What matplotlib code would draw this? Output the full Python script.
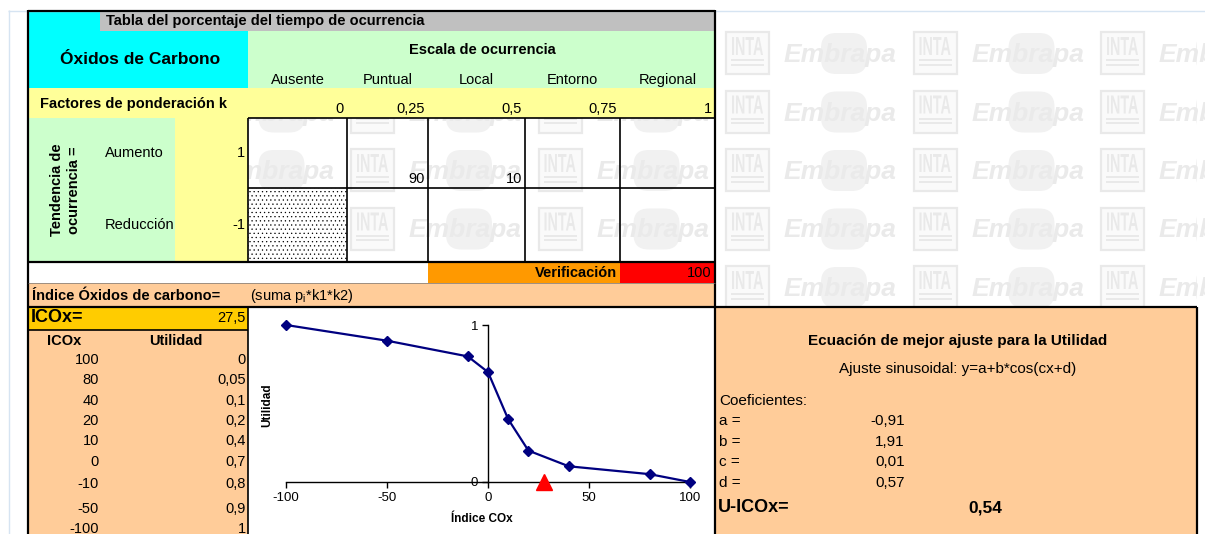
import matplotlib
matplotlib.use("Agg")
import matplotlib.pyplot as plt
from matplotlib.patches import Rectangle, FancyBboxPatch, PathPatch
from matplotlib.path import Path
from matplotlib.textpath import TextPath
from matplotlib.font_manager import FontProperties
from matplotlib.transforms import Affine2D

plt.rcParams['font.family'] = ['Liberation Sans', 'DejaVu Sans']
plt.rcParams['axes.unicode_minus'] = False
plt.rcParams['mathtext.fontset'] = 'custom'
plt.rcParams['mathtext.rm'] = 'Liberation Sans'
plt.rcParams['hatch.linewidth'] = 0.4

# ---- data ----
escala = ["Ausente", "Puntual", "Local", "Entorno", "Regional"]
factores_k = [0, 0.25, 0.5, 0.75, 1]
tendencias = ["Aumento", "Reducción"]
signo_tendencia = [1, -1]
porc_aumento = [None, 90, 10, None, None]
porc_reduccion = [None, None, None, None, None]

icox_tabla = [100, 80, 40, 20, 10, 0, -10, -50, -100]
utilidad_tabla = [0, 0.05, 0.1, 0.2, 0.4, 0.7, 0.8, 0.9, 1]
x_ticks = [-100, -50, 0, 50, 100]
y_ticks = [0, 1]

coef_nombres = ["a", "b", "c", "d"]
coef_valores = [-0.91, 1.91, 0.01, 0.57]
u_icox = 0.54

porcentajes = [porc_aumento, porc_reduccion]
verificacion = sum(p for fila in porcentajes for p in fila if p is not None)
icox = sum(p * k * s
           for fila, s in zip(porcentajes, signo_tendencia)
           for p, k in zip(fila, factores_k) if p is not None)


def fmt(v):
    return f"{v:g}".replace('.', ',')


# ---- canvas in pixel units ----
W, H = 1205, 534
fig = plt.figure(figsize=(W / 100, H / 100), dpi=100)
bg = fig.add_axes([0, 0, 1, 1])
bg.set_xlim(0, W)
bg.set_ylim(H, 0)
bg.axis('off')

FS = 10.5
FS_BIG = 13


def box(x0, y0, x1, y1, color, z=2, **kw):
    bg.add_patch(Rectangle((x0, y0), x1 - x0, y1 - y0, facecolor=color,
                           edgecolor='none', zorder=z, **kw))


def hline(y, x0, x1, lw=1.2, color='black', z=4):
    bg.plot([x0, x1], [y, y], color=color, lw=lw, zorder=z,
            solid_capstyle='butt')


def vline(x, y0, y1, lw=1.2, color='black', z=4):
    bg.plot([x, x], [y0, y1], color=color, lw=lw, zorder=z,
            solid_capstyle='butt')


def txt(x, y, s, ha='left', va='center', size=FS, weight='normal', **kw):
    bg.text(x, y, s, ha=ha, va=va, fontsize=size, fontweight=weight,
            zorder=6, **kw)


# ---- background watermark (INTA / Embrapa tiles) ----
# The sheet background only shows through the unfilled cells and the
# empty area right of the table.
open_areas = [(248, 118, 715, 262), (715, 10, 1197, 307)]
clip_path = Path.make_compound_path(*[
    Path([(a, b), (c, b), (c, d), (a, d), (a, b)], closed=True)
    for a, b, c, d in open_areas])
clip = PathPatch(clip_path, transform=bg.transData)


def tile_visible(x0, x1, y0, y1):
    return any(x1 > a and x0 < c and y1 > b and y0 < d
               for a, b, c, d in open_areas)


wm_line = '#E9E9E9'
wm_fill = '#F1F1F1'
bold_fp = FontProperties(family='Liberation Sans', weight='bold')
inta_path = TextPath((0, 0), "INTA", size=1, prop=bold_fp)
ext = inta_path.get_extents()
for m in range(0, 9):
    y0 = 32 + 58.5 * m
    for n in range(-3, 3):
        x0 = 726 + 187.5 * n
        arts = []
        if tile_visible(x0, x0 + 43, y0, y0 + 42):
            arts.append(bg.add_patch(Rectangle((x0, y0), 43, 42, facecolor='#FAFAFA',
                                               edgecolor=wm_line, lw=1.6, zorder=1)))
            tr = (Affine2D().translate(-ext.x0, 0)
                  .scale(31 / ext.width, -18 / ext.height)
                  .translate(x0 + 6, y0 + 23) + bg.transData)
            arts.append(bg.add_patch(PathPatch(inta_path, transform=tr,
                                               facecolor=wm_line, edgecolor='none',
                                               zorder=1)))
            arts.append(bg.add_patch(Rectangle((x0 + 5, y0 + 27), 33, 2.2,
                                               facecolor=wm_line, edgecolor='none',
                                               zorder=1)))
            arts.append(bg.add_patch(Rectangle((x0 + 5, y0 + 31.5), 33, 2.2,
                                               facecolor=wm_line, edgecolor='none',
                                               zorder=1)))
        if tile_visible(x0 + 58, x0 + 170, y0, y0 + 42):
            arts.append(bg.add_patch(FancyBboxPatch((x0 + 95, y0 + 1), 46, 41,
                                                    boxstyle="round,pad=0,rounding_size=15",
                                                    facecolor=wm_fill, edgecolor='none',
                                                    zorder=1)))
            arts.append(bg.text(x0 + 58, y0 + 30, "Embrapa", fontsize=19,
                                fontweight='bold', fontstyle='italic',
                                color='#EAEAEA', ha='left', va='baseline', zorder=1))
        for a in arts:
            a.set_clip_path(clip)

# ---- cell fills ----
CYAN, GRAY, GREEN, YELLOW = '#00FFFF', '#C0C0C0', '#CCFFCC', '#FFFF99'
PEACH, ORANGE, RED, GOLD = '#FFCC99', '#FF9900', '#FF0000', '#FFCC00'

box(28, 10, 100, 31, CYAN)
box(28, 31, 248, 88, CYAN)
box(100, 10, 715, 31, GRAY)
box(248, 31, 715, 88, GREEN)
box(28, 88, 715, 118, YELLOW)
box(28, 118, 175, 262, GREEN)
box(175, 118, 248, 262, YELLOW)
bg.add_patch(Rectangle((248, 188), 99, 74, facecolor='white', edgecolor='black',
                       lw=0, hatch='....', zorder=2))
box(28, 262, 428, 283, 'white')
box(428, 262, 620, 283, ORANGE)
box(620, 262, 715, 283, RED)
box(28, 283, 715, 307, PEACH)
box(28, 307, 248, 330, GOLD)
box(28, 330, 248, H, PEACH)
box(248, 307, 715, H, 'white')
box(715, 307, 1197, H, PEACH)

# ---- page and grid lines ----
vline(8.5, 10, H, lw=1.0, color='#D6E4F2')
hline(10.5, 8, W, lw=1.0, color='#D6E4F2')
hline(10.5, 28, 715, lw=1.6)
vline(28, 10, H, lw=1.6)
vline(715, 10, H, lw=1.6)
for y in (118, 188):
    hline(y, 248, 715)
col_edges = [248, 347, 428, 525, 620, 715]
for x in col_edges[:-1]:
    vline(x, 118, 262)
hline(262, 28, 715, lw=1.6)
hline(283, 28, 715, lw=0.5, color='#777777')
hline(307, 28, 1197, lw=1.6)
hline(330, 28, 248, lw=1.2)
vline(248, 307, H, lw=1.2)
vline(1197, 307, H, lw=1.6)

# ---- header texts ----
txt(106, 21, "Tabla del porcentaje del tiempo de ocurrencia", weight='bold')
txt(140, 60, "Óxidos de Carbono", ha='center', size=12.5, weight='bold')
txt(482, 50, "Escala de ocurrencia", ha='center', weight='bold')
for i, nombre in enumerate(escala):
    cx = (col_edges[i] + col_edges[i + 1]) / 2
    txt(cx, 80, nombre, ha='center')
txt(40, 104, "Factores de ponderación k", weight='bold')
for i, k in enumerate(factores_k):
    txt(col_edges[i + 1] - 3, 116, fmt(k), ha='right', va='bottom')

# ---- trend rows ----
row_edges = [118, 188, 262]
txt(57, 190, "Tendencia de", ha='center', weight='bold', rotation=90)
txt(74, 190, "ocurrencia =", ha='center', weight='bold', rotation=90)
for r, (nombre, s) in enumerate(zip(tendencias, signo_tendencia)):
    cy = (row_edges[r] + row_edges[r + 1]) / 2
    txt(105, cy, nombre)
    txt(245, cy, fmt(s), ha='right')
    for i, p in enumerate(porcentajes[r]):
        if p is not None:
            txt(col_edges[i + 1] - 3, row_edges[r + 1] - 2, fmt(p),
                ha='right', va='bottom')

txt(617, 273, "Verificación", ha='right', weight='bold')
txt(712, 273, fmt(verificacion), ha='right')

txt(32, 296, "Índice Óxidos de carbono=", weight='bold')
txt(250, 296, r"(suma p$_\mathregular{i}$*k1*k2)")

txt(31, 318, "ICOx=", size=FS_BIG, weight='bold')
txt(246, 318, fmt(icox), ha='right')

# ---- ICOx / Utilidad table ----
txt(64, 341, "ICOx", ha='center', weight='bold')
txt(176, 341, "Utilidad", ha='center', weight='bold')
row_y = [360, 380, 401, 421, 441, 462, 484, 509, 529]
for yv, xv, uv in zip(row_y, icox_tabla, utilidad_tabla):
    txt(99, yv, fmt(xv), ha='right')
    txt(246, yv, fmt(uv), ha='right')

# ---- right panel ----
FS_R = 11
txt(958, 341, "Ecuación de mejor ajuste para la Utilidad", ha='center',
    size=FS_R, weight='bold')
txt(958, 369, "Ajuste sinusoidal: y=a+b*cos(cx+d)", ha='center', size=FS_R)
txt(719, 401, "Coeficientes:", size=FS_R)
for j, (nm, val) in enumerate(zip(coef_nombres, coef_valores)):
    yv = 421 + 20.7 * j
    txt(719, yv, f"{nm} =", size=FS_R)
    txt(905, yv, f"{val:.2f}".replace('.', ','), ha='right', size=FS_R)
txt(718, 508, "U-ICOx=", size=FS_BIG, weight='bold')
txt(985, 508, f"{u_icox:.2f}".replace('.', ','), ha='center', size=12.5,
    weight='bold')

# ---- utility chart ----
px0, px1 = 286, 690
py1, py0 = 325, 482
ax = fig.add_axes([px0 / W, (H - py0) / H, (px1 - px0) / W, (py0 - py1) / H])
ax.set_xlim(-100, 100)
ax.set_ylim(0, 1)
ax.patch.set_visible(False)
for side in ('top', 'right'):
    ax.spines[side].set_visible(False)
ax.spines['left'].set_position(('data', 0))
ax.spines['left'].set_linewidth(1.0)
ax.spines['bottom'].set_linewidth(1.0)
ax.set_xticks(x_ticks)
ax.set_yticks(y_ticks)
ax.tick_params(axis='both', direction='out', length=4, width=1.0,
               labelsize=9.5, pad=3)
ax.plot(icox_tabla, utilidad_tabla, color='#000080', lw=1.6, marker='D',
        markersize=5.5, clip_on=False, zorder=3)
ax.plot([icox], [0], marker='^', color='#FF0000', markersize=12,
        linestyle='none', clip_on=False, zorder=4)

txt(482, 519, "Índice COx", ha='center', size=8.5, weight='bold')
txt(267, 405, "Utilidad", ha='center', size=8.5, weight='bold', rotation=90)

fig.savefig("out.png", dpi=100)
